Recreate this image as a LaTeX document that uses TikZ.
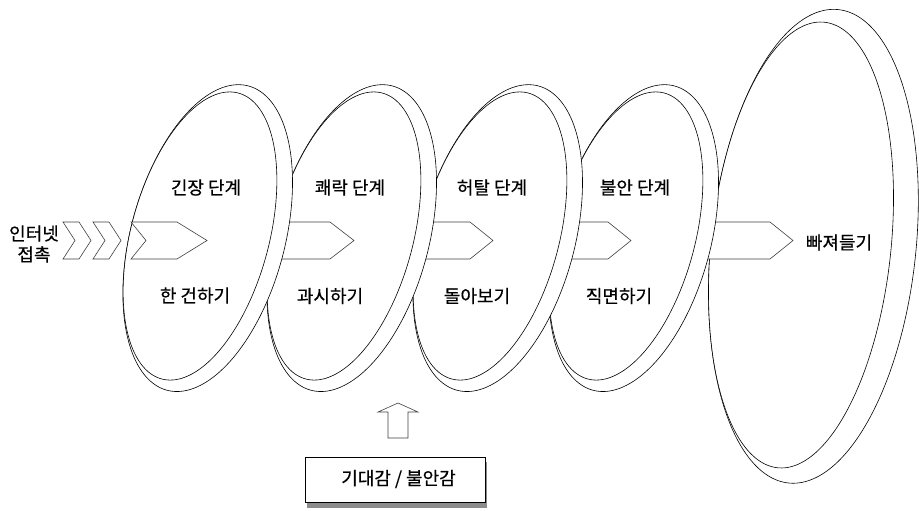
\documentclass[tikz,border=0pt]{standalone}
\usepackage{fontspec}
\setmainfont{Noto Sans CJK KR}
\newfontfamily\lblfont[FakeBold=0.5]{Noto Sans CJK KR}
\begin{document}
\begin{tikzpicture}[x=1pt,y=-1pt,
  disc/.style={draw=black, line width=0.6pt, fill=white},
  flow/.style={draw=black!75, line width=0.6pt, fill=white, line join=miter},
  lbl/.style={font=\lblfont\fontsize{18}{21}\selectfont, inner sep=0pt, text=black},
  shadowbox/.style={fill=black!45, draw=none},
  labelbox/.style={draw=black, line width=0.6pt, fill=white},
  ell/.style={domain=0:360, samples=241, variable=\t}]
\useasboundingbox (0,0) rectangle (919,511);
% disc 5 (largest, back)
\path[disc] plot[ell] ({813.4+101.94*cos(\t)+24.88*sin(\t)},{246.3+10.71*cos(\t)-236.70*sin(\t)}) -- cycle;
\path[disc] plot[ell] ({801+89.51*cos(\t)+23.41*sin(\t)},{245+9.41*cos(\t)-222.77*sin(\t)}) -- cycle;
\path[flow] (690,222) -- (770,222) -- (793,240.5) -- (770,259) -- (690,259) -- cycle;
% disc 4
\path[disc] plot[ell] ({633.7+74.38*cos(\t)+40.76*sin(\t)},{238.1+19.93*cos(\t)-152.13*sin(\t)}) -- cycle;
\path[disc] plot[ell] ({626+66.65*cos(\t)+38.31*sin(\t)},{236+17.86*cos(\t)-142.96*sin(\t)}) -- cycle;
\path[flow] (545,222) -- (608,222) -- (631,240.5) -- (608,259) -- (545,259) -- cycle;
% disc 3
\path[disc] plot[ell] ({497.7+74.38*cos(\t)+40.76*sin(\t)},{238.1+19.93*cos(\t)-152.13*sin(\t)}) -- cycle;
\path[disc] plot[ell] ({490+66.65*cos(\t)+38.31*sin(\t)},{236+17.86*cos(\t)-142.96*sin(\t)}) -- cycle;
\path[flow] (400,222) -- (470,222) -- (493,240.5) -- (470,259) -- (400,259) -- cycle;
% disc 2
\path[disc] plot[ell] ({351.7+74.38*cos(\t)+40.76*sin(\t)},{238.1+19.93*cos(\t)-152.13*sin(\t)}) -- cycle;
\path[disc] plot[ell] ({344+66.65*cos(\t)+38.31*sin(\t)},{236+17.86*cos(\t)-142.96*sin(\t)}) -- cycle;
\path[flow] (260,222) -- (330,222) -- (354,240.5) -- (330,259) -- (260,259) -- cycle;
% disc 1
\path[disc] plot[ell] ({207.7+74.38*cos(\t)+40.76*sin(\t)},{238.1+19.93*cos(\t)-152.13*sin(\t)}) -- cycle;
\path[disc] plot[ell] ({200+66.65*cos(\t)+38.31*sin(\t)},{236+17.86*cos(\t)-142.96*sin(\t)}) -- cycle;
% entry chevrons
\path[flow] (63,222) -- (79,222) -- (91,240.5) -- (79,259) -- (63,259) -- (75,240.5) -- cycle;
\path[flow] (93,222) -- (109,222) -- (121,240.5) -- (109,259) -- (93,259) -- (105,240.5) -- cycle;
\path[flow] (131,222) -- (177,222) -- (207,240.5) -- (177,259) -- (131,259) -- (146,240.5) -- cycle;
% labels
\node[lbl, align=center] (net) at (34,244) {인터넷\\접촉};
\node[lbl] (t1) at (206,187.5) {긴장 단계};
\node[lbl] (b1) at (195,295.5) {한 건하기};
\node[lbl] (t2) at (350,187.5) {쾌락 단계};
\node[lbl] (b2) at (330,296) {과시하기};
\node[lbl] (t3) at (492,187.5) {허탈 단계};
\node[lbl] (b3) at (477,296) {돌아보기};
\node[lbl] (t4) at (635,187.5) {불안 단계};
\node[lbl] (b4) at (619,296) {직면하기};
\node[lbl] (t5) at (839,242.5) {빠져들기};
% bottom box and up arrow
\path[shadowbox] (307,462) rectangle (487,508);
\node[labelbox, minimum width=180pt, minimum height=45pt, inner sep=0pt] (feel) at (395,479.5) {};
\node[lbl] (feeltxt) at (398.5,479) {기대감 / 불안감};
\path[flow] (388,438) -- (388,412) -- (378,412) -- (398,403) -- (418,412) -- (408,412) -- (408,438) -- cycle;
\end{tikzpicture}
\end{document}
